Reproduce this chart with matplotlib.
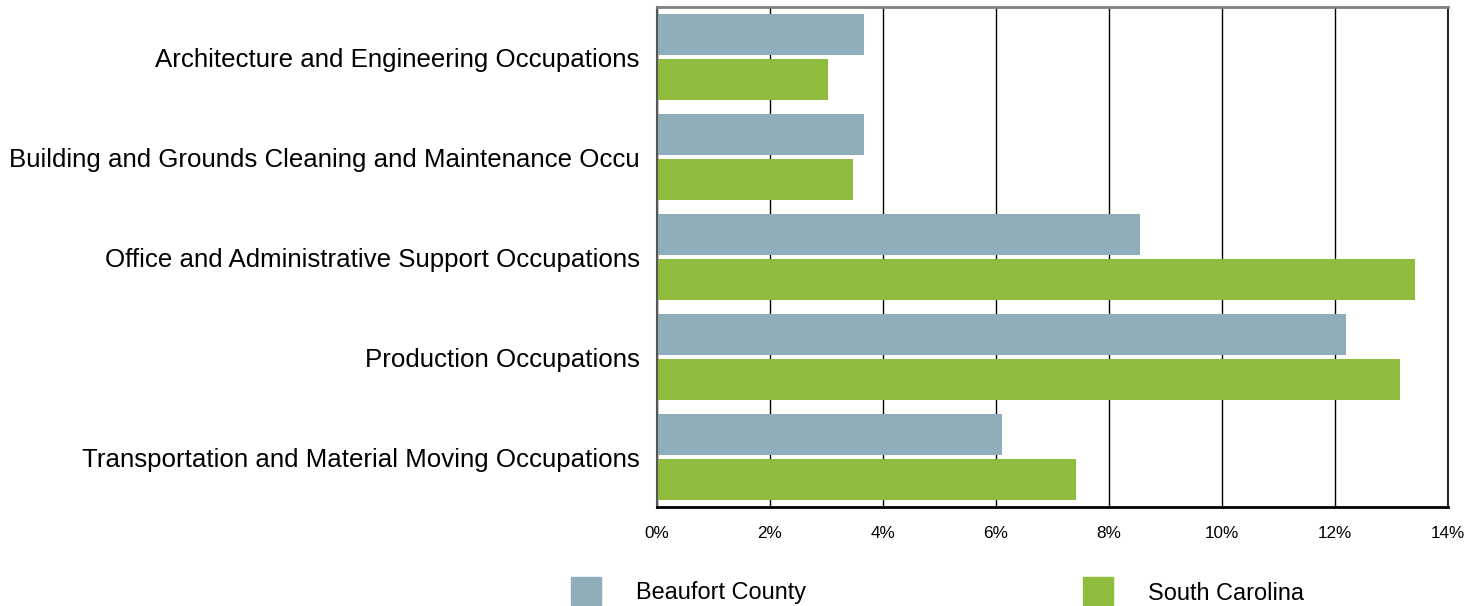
import matplotlib.pyplot as plt
import numpy as np
from matplotlib.patches import Rectangle
from matplotlib.ticker import FuncFormatter

plt.rcParams['font.family'] = ['Liberation Sans', 'DejaVu Sans']

occupations = [
    'Architecture and Engineering Occupations',
    'Building and Grounds Cleaning and Maintenance Occu',
    'Office and Administrative Support Occupations',
    'Production Occupations',
    'Transportation and Material Moving Occupations',
]
beaufort = [3.67, 3.67, 8.55, 12.19, 6.11]
south_carolina = [3.03, 3.47, 13.41, 13.15, 7.42]

blue_grey = '#90aeb9'
green = '#8fbc3c'

fig = plt.figure(figsize=(14.81, 6.06), dpi=100)
ax = fig.add_axes([657 / 1481, 1 - 507 / 606, (1448 - 657) / 1481, 500 / 606])

y = np.arange(len(occupations))
h = 0.41
ax.barh(y - 0.225, beaufort, h, color=blue_grey, zorder=2)
ax.barh(y + 0.225, south_carolina, h, color=green, zorder=2)

ax.set_xlim(0, 14)
ax.set_ylim(len(occupations) - 0.5, -0.5)
ax.set_xticks(np.arange(0, 15, 2))
ax.xaxis.set_major_formatter(FuncFormatter(lambda v, p: f'{v:.0f}%'))
ax.set_yticks(y, occupations)
ax.grid(axis='x', color='black', linewidth=1, zorder=1)

ax.tick_params(axis='y', length=0, pad=12.5, labelsize=18.6)
ax.tick_params(axis='x', length=0, pad=14, labelsize=12.3)

ax.spines['top'].set_color('#808080')
ax.spines['top'].set_linewidth(2)
ax.spines['left'].set_color('#555555')
ax.spines['left'].set_linewidth(1.5)
ax.spines['bottom'].set_color('black')
ax.spines['bottom'].set_linewidth(2)
ax.spines['right'].set_color('black')
ax.spines['right'].set_linewidth(1.2)

# legend drawn as loose swatches below the axis
for x0, label, c in [(571, 'Beaufort County', blue_grey), (1083, 'South Carolina', green)]:
    fig.add_artist(Rectangle((x0 / 1481, 1 - 605 / 606), 30 / 1481, 28 / 606,
                             transform=fig.transFigure, color=c))
    fig.text((x0 + 65) / 1481, 1 - 593 / 606, label, fontsize=16.9, va='center')

fig.savefig('out.png', dpi=100)
